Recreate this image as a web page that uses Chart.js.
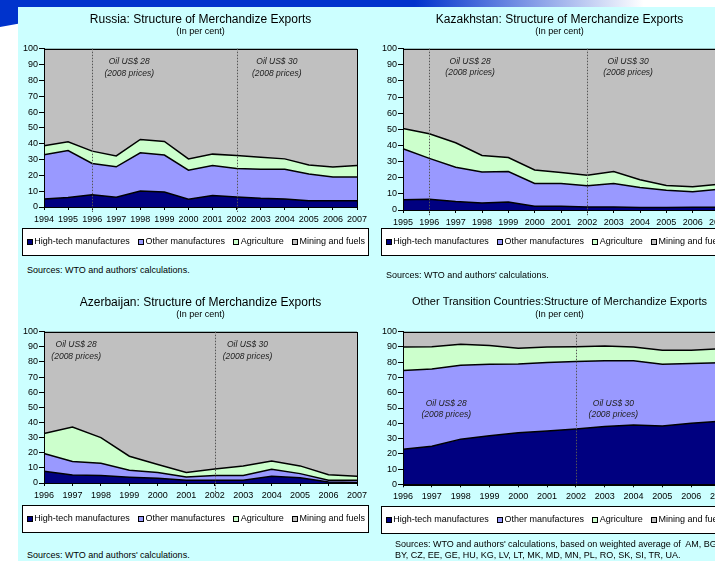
<!DOCTYPE html>
<html>
<head>
<meta charset="utf-8">
<script src="https://cdn.jsdelivr.net/npm/chart.js@4.4.1/dist/chart.umd.min.js"></script>
<style>
  html, body { margin: 0; padding: 0; width: 715px; height: 561px; overflow: hidden; background: #fff; }
  body { position: relative; font-family: Arial, "Liberation Sans", sans-serif; }
  #band { position: absolute; left: 0; top: 0; width: 715px; height: 7px;
          background: linear-gradient(to right, #0033cc 0%, #0033cc 58%, #ffffff 90%); }
  #corner { position: absolute; left: 0; top: 0; width: 18px; height: 27px; background: #0033cc;
            clip-path: polygon(0 0, 100% 0, 100% 88%, 0 100%); }
  #panel { position: absolute; left: 18px; top: 7px; width: 697px; height: 554px; background: #ccffff; }
  canvas { position: absolute; }
  .src { position: absolute; font-size: 9px; line-height: 10.5px; color: #000; white-space: nowrap; }
</style>
</head>
<body>
<div id="band"></div>
<div id="corner"></div>
<div id="panel"></div>

<canvas id="russia" width="365" height="255" style="left:18px;top:7px"></canvas>
<canvas id="kazakh" width="365" height="255" style="left:377px;top:7px"></canvas>
<canvas id="azer" width="365" height="245" style="left:18px;top:290px"></canvas>
<canvas id="other" width="365" height="245" style="left:377px;top:290px"></canvas>

<div class="src" style="left:27px;top:265px">Sources: WTO and authors' calculations.</div>
<div class="src" style="left:386px;top:270px">Sources: WTO and authors' calculations.</div>
<div class="src" style="left:27px;top:550px">Sources: WTO and authors' calculations.</div>
<div class="src" style="left:395px;top:539px">Sources: WTO and authors' calculations, based on weighted average of&nbsp; AM, BG,<br>BY, CZ, EE, GE, HU, KG, LV, LT, MK, MD, MN, PL, RO, SK, SI, TR, UA.</div>

<script>
const seriesNames = ['High-tech manufactures', 'Other manufactures', 'Agriculture', 'Mining and fuels'];
const seriesColors = ['#000080', '#9999ff', '#ccffcc', '#c0c0c0'];

// Russia 1994-2007
const russiaYears = ['1994','1995','1996','1997','1998','1999','2000','2001','2002','2003','2004','2005','2006','2007'];
const russiaHigh   = [5, 6, 7.8, 6.1, 10.1, 9.5, 4.9, 7.2, 6.3, 5.5, 5.1, 4, 4, 4];
const russiaOther  = [28, 29.7, 19.7, 19.3, 24.1, 23.3, 18.4, 19, 18, 18.4, 18.8, 16.9, 15, 15];
const russiaAgri   = [5.7, 5.5, 7.8, 6.9, 8.5, 8.6, 7.1, 7.2, 8.3, 7.6, 6.5, 5.7, 6.2, 7.2];
const russiaMining = [61.3, 58.8, 64.7, 67.7, 57.3, 58.6, 69.6, 66.6, 67.4, 68.5, 69.6, 73.4, 74.8, 73.8];

// Kazakhstan 1995-2007
const kazakhYears = ['1995','1996','1997','1998','1999','2000','2001','2002','2003','2004','2005','2006','2007'];
const kazakhHigh   = [6.3, 6.7, 5.2, 4.4, 5, 2.3, 2.3, 1.9, 1.9, 1.5, 1.5, 1.7, 1.7];
const kazakhOther  = [31.7, 25.3, 21.3, 19.1, 18.8, 14.2, 14.2, 13.1, 14.6, 12.5, 10.8, 9.6, 11.1];
const kazakhAgri   = [12.5, 15.3, 15.2, 10.3, 8.7, 8.3, 6.8, 6.5, 7.3, 4.8, 2.9, 3.1, 3.2];
const kazakhMining = [49.5, 52.7, 58.3, 66.2, 67.5, 75.2, 76.7, 78.5, 76.2, 81.2, 84.8, 85.6, 84];

// Azerbaijan 1996-2007
const azerYears = ['1996','1997','1998','1999','2000','2001','2002','2003','2004','2005','2006','2007'];
const azerHigh   = [7.7, 5.3, 4.9, 3.8, 3.1, 1.8, 1.8, 1.8, 4.4, 3.5, 0.7, 0.3];
const azerOther  = [11.8, 8.9, 8.1, 4.6, 3.9, 2.2, 3.1, 3.1, 4.6, 2.7, 1.1, 1.5];
const azerAgri   = [13.2, 22.8, 17, 9.3, 5.2, 3, 4.4, 6.4, 5.6, 5.1, 3.7, 2.6];
const azerMining = [67.3, 63, 70, 82.3, 87.8, 93, 90.7, 88.7, 85.4, 88.7, 94.5, 95.6];

// Other transition countries 1996-2007
const otherYears = ['1996','1997','1998','1999','2000','2001','2002','2003','2004','2005','2006','2007'];
const otherHigh   = [23, 25, 29.6, 31.8, 33.8, 34.9, 36.2, 37.8, 38.9, 38.2, 40, 41.3];
const otherOther  = [51.5, 50.6, 48.4, 46.9, 45.1, 44.9, 44.2, 43.1, 42, 40.5, 39.1, 38.3];
const otherAgri   = [15.5, 14.6, 13.7, 12.3, 10.2, 10.2, 9.8, 9.8, 9.1, 9.1, 8.7, 9.3];
const otherMining = [10, 9.8, 8.3, 9, 10.9, 10, 9.8, 9.3, 10, 12.2, 12.2, 11.1];

const FONT = 'Arial, "Liberation Sans", sans-serif';

// dotted oil-price lines, italic notes, plot frame and the boxed legend
const decor = {
  id: 'decor',
  afterDatasetsDraw(chart, args, o) {
    const {ctx, chartArea: a, scales: {x, y}} = chart;
    ctx.save();
    ctx.strokeStyle = '#000';
    ctx.lineWidth = 1;
    ctx.strokeRect(Math.round(a.left) + 0.5, Math.round(a.top) + 0.5, Math.round(a.right - a.left), Math.round(a.bottom - a.top));
    ctx.strokeStyle = '#555';
    ctx.setLineDash([1.5, 1.5]);
    o.marks.forEach(yr => {
      const px = Math.round(x.getPixelForValue(chart.data.labels.indexOf(yr))) + 0.5;
      ctx.beginPath();
      ctx.moveTo(px, a.top);
      ctx.lineTo(px, a.bottom + o.markDrop);
      ctx.stroke();
    });
    ctx.setLineDash([]);
    ctx.fillStyle = '#222';
    ctx.font = 'italic 8.5px ' + FONT;
    ctx.textAlign = 'center';
    ctx.textBaseline = 'middle';
    o.notes.forEach(n => {
      const px = x.getPixelForValue(n.at);
      ctx.fillText(n.text, px, y.getPixelForValue(n.y1));
      ctx.fillText('(2008 prices)', px, y.getPixelForValue(n.y2));
    });
    ctx.restore();
  },
  afterDraw(chart, args, o) {
    const {ctx, chartArea: a} = chart;
    const left = 4.5, right = a.right + 11.5;
    const top = Math.round(a.bottom + o.legendGap) + 0.5;
    ctx.save();
    ctx.fillStyle = '#fff';
    ctx.fillRect(left, top, right - left, 27);
    ctx.strokeStyle = '#000';
    ctx.lineWidth = 1;
    ctx.strokeRect(left, top, right - left, 27);
    ctx.font = '9px ' + FONT;
    ctx.textBaseline = 'middle';
    ctx.textAlign = 'left';
    const cy = top + 13.5;
    let cx = left + 4.5;
    chart.data.datasets.forEach(ds => {
      ctx.fillStyle = ds.backgroundColor;
      ctx.fillRect(Math.round(cx), Math.round(cy - 3), 6, 6);
      ctx.strokeStyle = '#000';
      ctx.strokeRect(Math.round(cx) + 0.5, Math.round(cy - 3) + 0.5, 5, 5);
      ctx.fillStyle = '#000';
      ctx.fillText(ds.label, cx + 7.2, cy);
      cx += 7.2 + ctx.measureText(ds.label).width + 8.5;
    });
    ctx.restore();
  }
};

const makeChart = (id, title, years, values, o) => {
  const datasets = values.map((v, i) => ({
    label: seriesNames[i],
    data: v,
    backgroundColor: seriesColors[i],
    borderColor: '#000',
    borderWidth: 1.5,
    pointRadius: 0,
    tension: 0,
    fill: i === 0 ? 'origin' : '-1'
  }));
  const titleSize = o.titleSize || 12;
  return new Chart(document.getElementById(id), {
    type: 'line',
    data: { labels: years, datasets: datasets },
    plugins: [decor],
    options: {
      responsive: false,
      animation: false,
      events: [],
      layout: { padding: { left: 4, right: 4, top: 0, bottom: o.padBottom } },
      plugins: {
        legend: { display: false },
        tooltip: { enabled: false },
        title: { display: true, text: title, color: '#000', font: { family: FONT, size: titleSize, weight: 'normal' },
                 padding: { top: 5 + (12 - titleSize) * 0.6, bottom: (12 - titleSize) * 0.6 } },
        subtitle: { display: true, text: '(In per cent)', color: '#000', font: { family: FONT, size: 9 }, padding: { top: 0, bottom: 11.5 } },
        decor: o
      },
      scales: {
        x: {
          offset: false,
          grid: { drawOnChartArea: false, drawTicks: true, tickLength: 3, color: '#000' },
          border: { display: true, color: '#000' },
          ticks: { color: '#000', font: { family: FONT, size: 9 }, padding: 4, maxRotation: 0, autoSkip: false },
          afterFit: s => { s.height = 17; }
        },
        y: {
          stacked: true,
          min: 0,
          max: 100,
          grid: { drawOnChartArea: false, drawTicks: true, tickLength: 5, color: '#000' },
          border: { display: true, color: '#000' },
          ticks: { stepSize: 10, color: '#000', font: { family: FONT, size: 9 }, padding: 1 },
          afterFit: s => { s.width = 22; }
        },
        yr: {
          position: 'right',
          display: true,
          grid: { display: false },
          border: { display: false },
          ticks: { display: false },
          afterFit: s => { s.width = o.rightGap; }
        }
      }
    }
  });
};

makeChart('russia', 'Russia: Structure of Merchandize Exports', russiaYears,
  [russiaHigh, russiaOther, russiaAgri, russiaMining],
  { padBottom: 38, rightGap: 22, legendGap: 21, markDrop: 5, marks: ['1996', '2002'],
    notes: [{ text: 'Oil US$ 28', at: 3.54, y1: 92, y2: 84 }, { text: 'Oil US$ 30', at: 9.67, y1: 92, y2: 84 }] });

makeChart('kazakh', 'Kazakhstan: Structure of Merchandize Exports', kazakhYears,
  [kazakhHigh, kazakhOther, kazakhAgri, kazakhMining],
  { padBottom: 35, rightGap: 19, legendGap: 17.7, markDrop: 6, marks: ['1996', '2002'],
    notes: [{ text: 'Oil US$ 28', at: 2.55, y1: 92, y2: 85 }, { text: 'Oil US$ 30', at: 8.55, y1: 92, y2: 85 }] });

makeChart('azer', 'Azerbaijan: Structure of Merchandize Exports', azerYears,
  [azerHigh, azerOther, azerAgri, azerMining],
  { padBottom: 35, rightGap: 22, legendGap: 22.3, markDrop: 14, marks: ['2002'],
    notes: [{ text: 'Oil US$ 28', at: 1.13, y1: 91.4, y2: 83.4 }, { text: 'Oil US$ 30', at: 7.15, y1: 91.4, y2: 83.4 }] });

makeChart('other', 'Other Transition Countries:Structure of Merchandize Exports', otherYears,
  [otherHigh, otherOther, otherAgri, otherMining],
  { padBottom: 33.7, rightGap: 18, legendGap: 21.7, markDrop: 1, marks: ['2002'], titleSize: 11,
    notes: [{ text: 'Oil US$ 28', at: 1.5, y1: 52.6, y2: 45.4 }, { text: 'Oil US$ 30', at: 7.3, y1: 52.6, y2: 45.4 }] });
</script>
</body>
</html>
